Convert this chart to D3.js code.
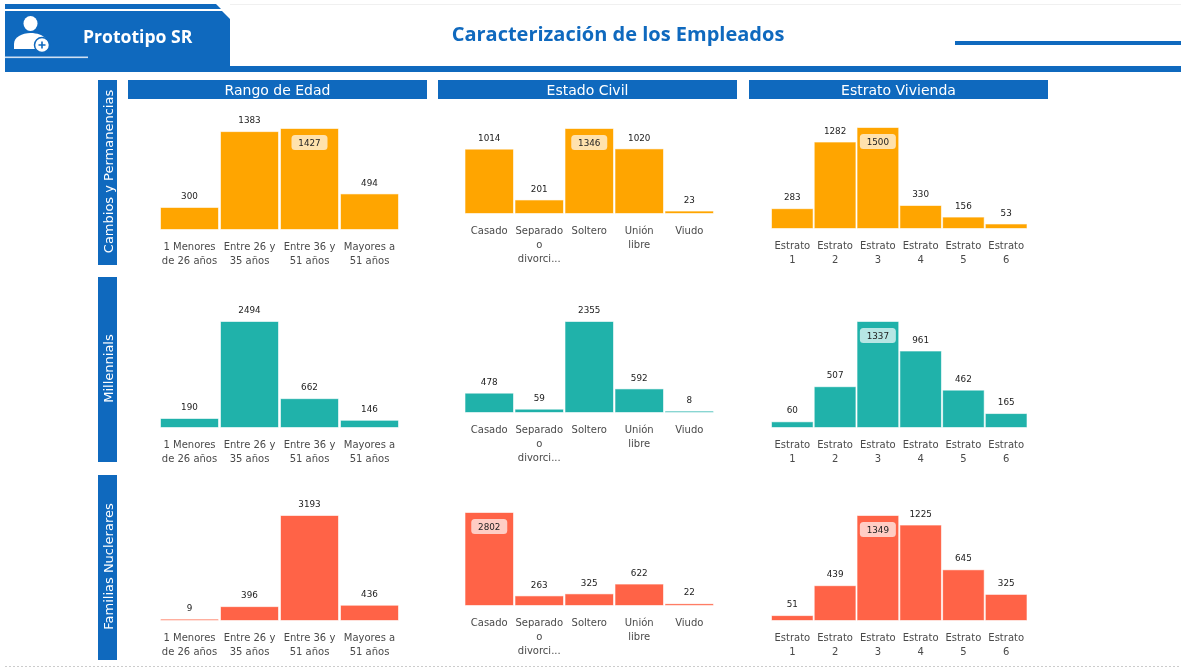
<!DOCTYPE html>
<html><head><meta charset="utf-8">
<script src="https://cdn.jsdelivr.net/npm/d3@7"></script>
<style>
html,body{margin:0;padding:0;background:#fff;overflow:hidden}
svg{display:block;filter:blur(0.35px)}
text{font-family:"DejaVu Sans",sans-serif}
</style></head><body><svg id="c" width="1181" height="667"></svg>
<script>
const generations = ["Cambios y Permanencias", "Millennials", "Familias Nuclerares"];
const generationColors = ["#FFA500", "#20B2AA", "#FF6347"];
const groupTitles = ["Rango de Edad", "Estado Civil", "Estrato Vivienda"];

const ageCategories = ["1 Menores|de 26 años", "Entre 26 y|35 años", "Entre 36 y|51 años", "Mayores a|51 años"];
const civilCategories = ["Casado", "Separado|o|divorci...", "Soltero", "Unión|libre", "Viudo"];
const stratumCategories = ["Estrato|1", "Estrato|2", "Estrato|3", "Estrato|4", "Estrato|5", "Estrato|6"];

const ageCambios = [300, 1383, 1427, 494];
const ageMillennials = [190, 2494, 662, 146];
const ageFamilias = [9, 396, 3193, 436];
const civilCambios = [1014, 201, 1346, 1020, 23];
const civilMillennials = [478, 59, 2355, 592, 8];
const civilFamilias = [2802, 263, 325, 622, 22];
const stratumCambios = [283, 1282, 1500, 330, 156, 53];
const stratumMillennials = [60, 507, 1337, 961, 462, 165];
const stratumFamilias = [51, 439, 1349, 1225, 645, 325];

const BLUE = "#0F69BE";
const svg = d3.select("#c");

// layout
const colHeads = [[128, 427], [438, 737], [749, 1048]];
const rowHeads = [[80, 265], [277, 462], [475, 660]];
const plotX = [[161, 398], [465.5, 713], [772, 1026.5]];
const baselines = [[229, 213, 228], [427, 412, 427], [620, 605, 620]];
const tops = [[129, 129, 128], [322, 322, 322], [516, 513, 516]];
const pilled = [[true, true, true], [false, false, true], [false, true, true]];

const categories = [ageCategories, civilCategories, stratumCategories];
const values = [
  [ageCambios, civilCambios, stratumCambios],
  [ageMillennials, civilMillennials, stratumMillennials],
  [ageFamilias, civilFamilias, stratumFamilias]
];

// header
svg.append("line").attr("x1", 230).attr("x2", 1181).attr("y1", 4.5).attr("y2", 4.5).attr("stroke", "#f0f0f0");
svg.append("rect").attr("x", 230).attr("y", 66).attr("width", 951).attr("height", 6).attr("fill", BLUE);
svg.append("rect").attr("x", 955).attr("y", 41).attr("width", 226).attr("height", 4).attr("fill", BLUE);
svg.append("path").attr("fill", BLUE).attr("d", "M5,4H216L221,9H5Z");
svg.append("path").attr("fill", BLUE).attr("d", "M5,11H222L230,19V72H5Z");
svg.append("rect").attr("x", 5).attr("y", 56.5).attr("width", 83).attr("height", 1.6).attr("fill", "#cfe0f2");
// icon
const icon = svg.append("g").attr("fill", "#fff");
icon.append("ellipse").attr("cx", 30.5).attr("cy", 23.5).attr("rx", 7).attr("ry", 7.5);
icon.append("path").attr("d", "M14,49V44C14,37 22,33 30.5,33C37,33 43,35 46,39V49Z");
icon.append("circle").attr("cx", 42).attr("cy", 45).attr("r", 7.5).attr("stroke", BLUE).attr("stroke-width", 1.5);
svg.append("path").attr("d", "M38.5,45H45.5M42,41.5V48.5").attr("stroke", BLUE).attr("stroke-width", 1.6);

svg.append("text").attr("x", 83).attr("y", 43.3).attr("fill", "#fff")
  .style("font-family", "'Open Sans',sans-serif").attr("font-weight", 700).attr("font-size", 17.6).text("Prototipo SR");
svg.append("text").attr("x", 618).attr("y", 41.3).attr("fill", BLUE).attr("text-anchor", "middle")
  .style("font-family", "'Open Sans',sans-serif").attr("font-weight", 700).attr("font-size", 20).text("Caracterización de los Empleados");

// column headers
groupTitles.forEach((t, c) => {
  const [a, b] = colHeads[c];
  svg.append("rect").attr("x", a).attr("y", 80).attr("width", b - a).attr("height", 19).attr("fill", BLUE);
  svg.append("text").attr("x", (a + b) / 2).attr("y", 95).attr("fill", "#fff").attr("text-anchor", "middle")
    .attr("font-size", 14).text(t);
});

// row headers + panels
generations.forEach((g, r) => {
  const [a, b] = rowHeads[r];
  svg.append("rect").attr("x", 98).attr("y", a).attr("width", 19).attr("height", b - a).attr("fill", BLUE);
  svg.append("text").attr("transform", `translate(113,${(a + b) / 2 - 1}) rotate(-90)`)
    .attr("fill", "#fff").attr("text-anchor", "middle").attr("font-size", 13).text(g);

  groupTitles.forEach((_, c) => {
    const cats = categories[c], vals = values[r][c];
    const data = cats.map((k, i) => ({ k, v: vals[i] }));
    const x = d3.scaleBand().domain(cats).range(plotX[c]).paddingInner(0.05);
    const y = d3.scaleLinear().domain([0, d3.max(vals)]).range([baselines[r][c], tops[r][c]]);
    const panel = svg.append("g");

    panel.selectAll("rect.bar").data(data).join("rect").attr("class", "bar")
      .attr("x", d => x(d.k)).attr("width", x.bandwidth())
      .attr("y", d => y(d.v)).attr("height", d => y(0) - y(d.v))
      .attr("fill", generationColors[r])
      .attr("stroke", generationColors[r]).attr("stroke-opacity", 0.4).attr("stroke-width", 1);

    const axis = d3.axisBottom(x).tickSize(0).tickPadding(0).tickFormat("");
    const ag = panel.append("g").attr("transform", `translate(0,${y(0)})`).call(axis);
    ag.select(".domain").remove();
    ag.selectAll(".tick").each(function (k) {
      const t = d3.select(this).append("text").attr("text-anchor", "middle").attr("fill", "#4a4a4a")
        .attr("font-size", 10);
      k.split("|").forEach((line, i) => t.append("tspan").attr("x", 0).attr("y", 21 + i * 14).text(line));
    });

    const maxV = d3.max(vals);
    data.forEach(d => {
      const cx = x(d.k) + x.bandwidth() / 2;
      const inside = pilled[r][c] && d.v === maxV;
      const ly = inside ? y(d.v) + 13.5 : y(d.v) - 12;
      if (inside) {
        panel.append("rect").attr("x", cx - 18).attr("y", ly - 7.5).attr("width", 36).attr("height", 15).attr("rx", 3.5)
          .attr("fill", "#fff").attr("fill-opacity", 0.68);
      }
      panel.append("text").attr("x", cx).attr("y", ly + 3.2).attr("text-anchor", "middle")
        .attr("fill", "#222").attr("font-size", 8.8).text(d.v);
    });
  });
});

svg.append("line").attr("x1", 5).attr("x2", 1181).attr("y1", 666.5).attr("y2", 666.5)
  .attr("stroke", "#ccc").attr("stroke-dasharray", "2 2");
</script></body></html>
